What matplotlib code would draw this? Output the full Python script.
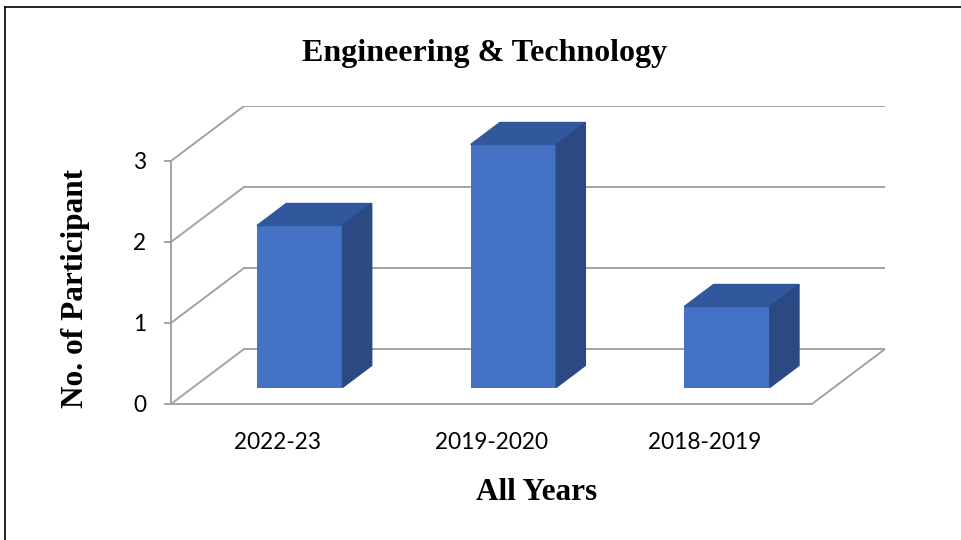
import matplotlib as mpl
import matplotlib.pyplot as plt
from matplotlib.lines import Line2D
from matplotlib.patches import Polygon

mpl.rcParams.update(
    {
        "font.family": ["Lato", "DejaVu Sans"],
        "font.size": 16.3,
    }
)

# data
years = ["2022-23", "2019-2020", "2018-2019"]
participants = [2, 3, 1]
y_ticks = [0, 1, 2, 3]

FRONT = "#4472C4"
TOP = "#31579C"
SIDE = "#2B4A83"
GRID = "#A3A3A3"

W, H = 961, 540
# oblique depth in data units (x per category, y per participant)
DX, DY = 0.342, 0.679
F0, DEPTH = 0.30, 0.40
BAR_W = 0.4

fig = plt.figure(figsize=(W / 100, H / 100), dpi=100)
ax = fig.add_axes([171 / W, (H - 404) / H, 714 / W, 298 / H])
ax.set_xlim(-0.5, 2.5 + DX)
ax.set_ylim(0, 3 + DY)
ymax = y_ticks[-1]

# back wall gridlines and left wall diagonals
for v in y_ticks:
    ax.plot([-0.5 + DX, 2.5 + DX], [v + DY, v + DY], color=GRID, lw=1.4, zorder=1)
    ax.plot([-0.5, -0.5 + DX], [v, v + DY], color=GRID, lw=1.4, zorder=1)
# right edge of floor
ax.plot([2.5, 2.5 + DX], [0, DY], color=GRID, lw=1.4, zorder=1)

# bars: front faces through ax.bar, top and side faces from the same values
x = [i + F0 * DX for i in range(len(years))]
base = F0 * DY
ax.bar(x, participants, width=BAR_W, bottom=base, color=FRONT, zorder=3)
for xc, v in zip(x, participants):
    x0, x1 = xc - BAR_W / 2, xc + BAR_W / 2
    top = base + v
    ddx, ddy = DEPTH * DX, DEPTH * DY
    ax.add_patch(Polygon([(x0, top), (x1, top), (x1 + ddx, top + ddy), (x0 + ddx, top + ddy)],
                         closed=True, color=TOP, zorder=3))
    ax.add_patch(Polygon([(x1, base), (x1 + ddx, base + ddy), (x1 + ddx, top + ddy), (x1, top)],
                         closed=True, color=SIDE, zorder=3))

for side in ["top", "right"]:
    ax.spines[side].set_visible(False)
ax.spines["left"].set_bounds(0, ymax)
ax.spines["bottom"].set_bounds(-0.5, 2.5)
for side in ["left", "bottom"]:
    ax.spines[side].set_color(GRID)
    ax.spines[side].set_linewidth(1.4)
ax.patch.set_visible(False)

ax.set_yticks(y_ticks)
ax.set_xticks(range(len(years)))
ax.set_xticklabels(years)
ax.tick_params(axis="y", length=5, width=1.4, color=GRID, pad=13)
ax.tick_params(axis="x", length=0, pad=20)

serif = {"family": "Liberation Serif", "weight": "bold"}
fig.text(485 / W, 1 - 53 / H, "Engineering & Technology", ha="center", va="center", size=23, **serif)
fig.text(537 / W, 1 - 492 / H, "All Years", ha="center", va="center", size=22.5, **serif)
fig.text(76 / W, 1 - 288 / H, "No. of Participant", ha="center", va="center", rotation=90,
         size=22.5, **serif)

# chart frame (only left and top edges are visible in the crop)
fig.add_artist(Line2D([5 / W, 5 / W], [0, 1 - 7 / H], color="black", lw=1.2))
fig.add_artist(Line2D([5 / W, 1], [1 - 7 / H, 1 - 7 / H], color="black", lw=1.2))

fig.savefig("out.png", dpi=100)
